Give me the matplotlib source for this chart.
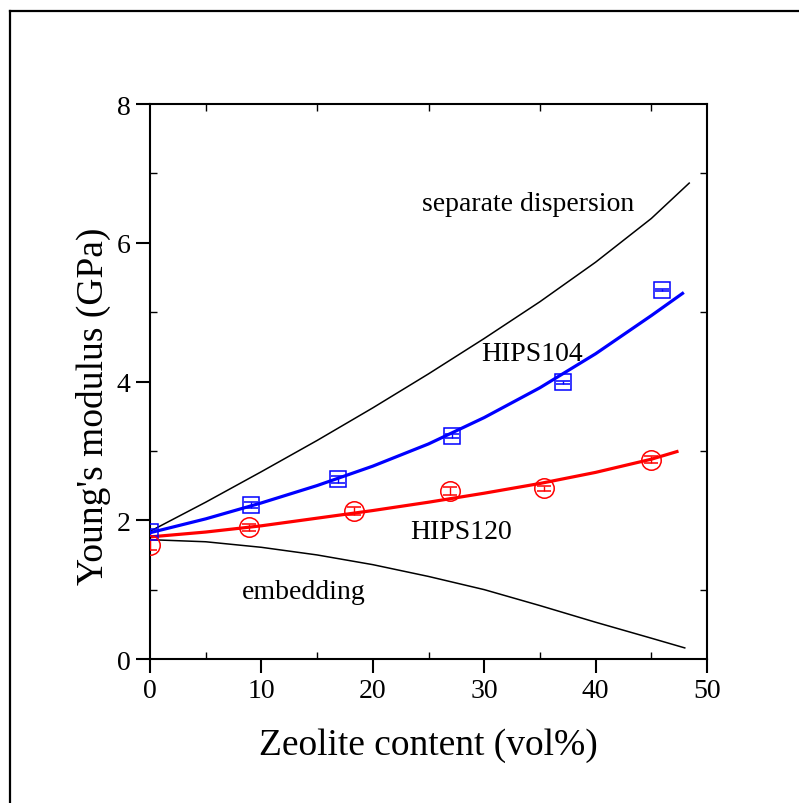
import numpy as np
import matplotlib.pyplot as plt
from matplotlib.lines import Line2D

plt.rcParams['font.family'] = ['Liberation Serif', 'DejaVu Serif']
plt.rcParams['mathtext.fontset'] = 'stix'

###############################################################
# data
###############################################################
x_hips104 = [0.0, 9.1, 16.9, 27.1, 37.1, 46.0]
E_hips104 = [1.83, 2.22, 2.59, 3.21, 3.99, 5.32]
err_hips104 = [0.05, 0.05, 0.05, 0.03, 0.02, 0.02]

x_hips120 = [0.0, 8.9, 18.3, 26.9, 35.4, 45.0]
E_hips120 = [1.64, 1.90, 2.13, 2.42, 2.46, 2.87]
err_hips120 = [0.07, 0.05, 0.06, 0.06, 0.04, 0.05]

x_fit104 = [0, 5, 10, 15, 20, 25, 30, 35, 40, 45, 47.8]
E_fit104 = [1.82, 2.02, 2.25, 2.50, 2.78, 3.10, 3.48, 3.91, 4.40, 4.95, 5.27]

x_fit120 = [0, 5, 10, 15, 20, 25, 30, 35, 40, 45, 47.3]
E_fit120 = [1.76, 1.83, 1.92, 2.03, 2.14, 2.26, 2.39, 2.53, 2.69, 2.88, 2.99]

x_separate = [0, 5, 10, 15, 20, 25, 30, 35, 40, 45, 48.4]
E_separate = [1.84, 2.26, 2.70, 3.15, 3.62, 4.11, 4.62, 5.15, 5.72, 6.35, 6.86]

x_embed = [0, 5, 10, 15, 20, 25, 30, 35, 40, 45, 48.0]
E_embed = [1.72, 1.69, 1.61, 1.50, 1.36, 1.19, 1.00, 0.77, 0.53, 0.30, 0.16]

x_ticks = [0, 10, 20, 30, 40, 50]
y_ticks = [0, 2, 4, 6, 8]


def plot_chart():
    fig = plt.figure(figsize=(7.99, 8.04), dpi=100)
    ax = fig.add_axes([0.1877, 0.1791, 0.6972, 0.6903])

    # outer frame of the figure (top and left edges only visible)
    fig.add_artist(Line2D([10 / 799, 1.0], [1 - 12 / 804, 1 - 12 / 804],
                          transform=fig.transFigure, color='black', linewidth=1.6))
    fig.add_artist(Line2D([10 / 799, 10 / 799], [0.0, 1 - 12 / 804],
                          transform=fig.transFigure, color='black', linewidth=1.6))

    # model curves
    ax.plot(x_separate, E_separate, color='black', linewidth=1.1)
    ax.plot(x_embed, E_embed, color='black', linewidth=1.1)

    # fits
    ax.plot(x_fit104, E_fit104, color='blue', linewidth=2.3)
    ax.plot(x_fit120, E_fit120, color='red', linewidth=2.3)

    # measured points
    ax.errorbar(x_hips104, E_hips104, yerr=err_hips104, fmt='s',
                markersize=12, markerfacecolor='none', markeredgecolor='blue',
                markeredgewidth=1.1, ecolor='blue', elinewidth=1.0,
                capsize=5, capthick=1.0, zorder=5)
    ax.errorbar(x_hips120, E_hips120, yerr=err_hips120, fmt='o',
                markersize=14, markerfacecolor='none', markeredgecolor='red',
                markeredgewidth=1.1, ecolor='red', elinewidth=1.0,
                capsize=5, capthick=1.0, zorder=5)

    # annotations
    ax.text(33.9, 6.57, 'separate dispersion', fontsize=20, ha='center', va='center')
    ax.text(34.3, 4.41, 'HIPS104', fontsize=20, ha='center', va='center')
    ax.text(27.9, 1.84, 'HIPS120', fontsize=20, ha='center', va='center')
    ax.text(13.8, 0.98, 'embedding', fontsize=20, ha='center', va='center')

    ##########################################################################
    # axis limits and ticks
    ##########################################################################
    ax.set_xlim(0, 50)
    ax.set_ylim(0, 8)
    ax.set_xticks(x_ticks)
    ax.set_yticks(y_ticks)
    ax.set_xticks(np.arange(5, 50, 10), minor=True)
    ax.set_yticks(np.arange(1, 8, 2), minor=True)
    ax.tick_params(which='major', direction='out', length=10, width=1.5,
                   labelsize=20, pad=4)
    ax.tick_params(which='minor', direction='in', length=5, width=1.0,
                   top=True, right=True)
    for sp in ax.spines.values():
        sp.set_linewidth(1.5)

    ax.set_xlabel('Zeolite content (vol%)', fontsize=27, labelpad=17)
    ax.set_ylabel("Young's modulus (GPa)", fontsize=27)
    ax.yaxis.set_label_coords(-0.07, 0.458)

    plt.savefig('out.png', dpi=100)


def main():
    plot_chart()


if __name__ == '__main__':
    main()
